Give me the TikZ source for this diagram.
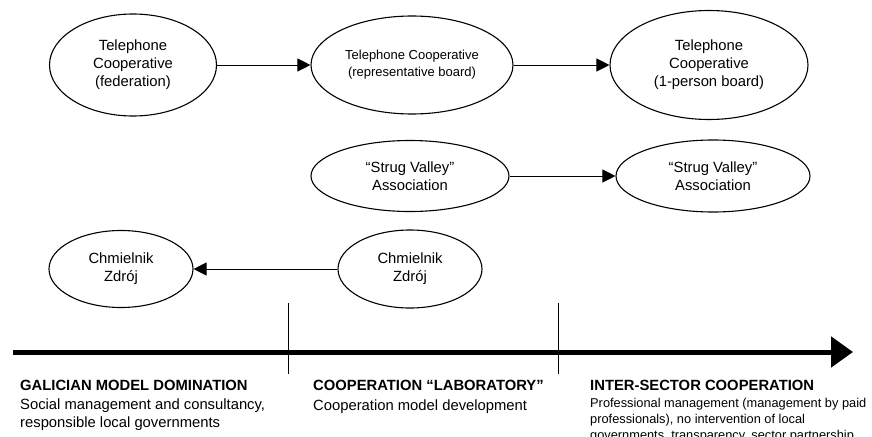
\documentclass[tikz,border=0pt]{standalone}
\usepackage{fontspec}
\setmainfont{Liberation Sans}
\usetikzlibrary{shapes.geometric,arrows.meta}

\tikzset{
  stage/.style={ellipse, draw, line width=1.1pt, inner sep=0pt, align=center,
    font=\fontsize{14.8}{18}\selectfont},
  link/.style={line width=0.9pt, -{Triangle[length=13pt,width=13pt]}},
  era/.style={anchor=base west, align=left, inner sep=0pt,
    font=\fontsize{14.8}{17.5}\selectfont},
}

\begin{document}
\begin{tikzpicture}[x=1pt,y=-1pt]
  \useasboundingbox (0,0) rectangle (872,436);
  \clip (0,0) rectangle (872,436);
  % telephone cooperative
  \node[stage, minimum width=167pt, minimum height=102pt] (fed) at (133,65)
    {Telephone\\Cooperative\\(federation)};
  \node[stage, minimum width=202pt, minimum height=98pt,
    font=\fontsize{13}{17}\selectfont] (rep) at (412,65)
    {Telephone Cooperative\\(representative board)};
  \node[stage, minimum width=198pt, minimum height=109pt] (one) at (709,65)
    {Telephone\\Cooperative\\(1-person board)};
  % strug valley
  \node[stage, minimum width=198pt, minimum height=71pt] (strugA) at (410,176)
    {“Strug Valley”\\Association};
  \node[stage, minimum width=194pt, minimum height=72pt] (strugB) at (713,176)
    {“Strug Valley”\\Association};
  % chmielnik
  \node[stage, minimum width=144pt, minimum height=77pt] (chmA) at (121,269)
    {Chmielnik\\Zdrój};
  \node[stage, minimum width=144pt, minimum height=78pt] (chmB) at (410,269)
    {Chmielnik\\Zdrój};
  \draw[link] (fed) -- (rep);
  \draw[link] (rep) -- (one);
  \draw[link] (strugA) -- (strugB);
  \draw[link] (chmB) -- (chmA);
  % time line
  \coordinate (tlStart) at (13,352);
  \coordinate (tlEnd) at (853,352);
  \draw[line width=5pt, -{Triangle[length=22pt,width=30pt]}] (tlStart) -- (tlEnd);
  \coordinate (cutAtop) at (288,303);
  \coordinate (cutAbot) at (288,374);
  \coordinate (cutBtop) at (558,303);
  \coordinate (cutBbot) at (558,374);
  \draw[line width=0.9pt] (cutAtop) -- (cutAbot);
  \draw[line width=0.9pt] (cutBtop) -- (cutBbot);
  % periods (multi-line texts sit on their last baseline)
  \node[era, font=\fontsize{14.8}{17.5}\bfseries] (galHead) at (20,390)
    {GALICIAN MODEL DOMINATION};
  \node[era] (galText) at (20,427)
    {Social management and consultancy,\\responsible local governments};
  \node[era, font=\fontsize{14.8}{17.5}\bfseries] (labHead) at (313,390)
    {COOPERATION “LABORATORY”};
  \node[era] (labText) at (313,410) {Cooperation model development};
  \node[era, font=\fontsize{14.8}{17.5}\bfseries] (secHead) at (590,390)
    {INTER-SECTOR COOPERATION};
  \node[era, font=\fontsize{12.8}{16}\selectfont] (secText) at (590,439)
    {Professional management (management by paid\\professionals), no intervention of local\\governments, transparency, sector partnership};
\end{tikzpicture}
\end{document}
